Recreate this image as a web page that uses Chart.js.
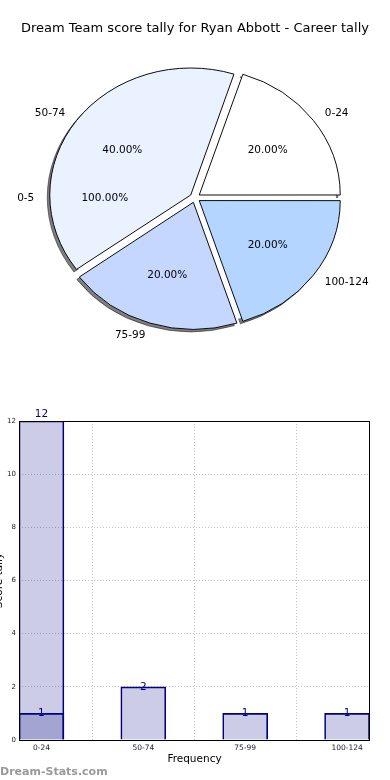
<!DOCTYPE html>
<html><head><meta charset="utf-8">
<script src="https://cdn.jsdelivr.net/npm/chart.js@4"></script>
<style>
html,body{margin:0;padding:0;background:#fff;width:390px;height:780px;overflow:hidden}
#pieWrap{position:absolute;left:0;top:0;width:390px;height:359px}
#barWrap{position:absolute;left:0;top:359px;width:390px;height:421px}
</style></head><body>
<div id="pieWrap"><canvas id="pie"></canvas></div>
<div id="barWrap"><canvas id="bar"></canvas></div>
<script>
// ---- data ----
const titleText = 'Dream Team score tally for Ryan Abbott - Career tally';
const categories = ['0-24', '50-74', '75-99', '100-124'];
const tallyCounts = [1, 2, 1, 1];
const pieColors = ['#ffffff', '#eaf1ff', '#c5d7ff', '#b3d5ff'];
const extraCategory = '0-5';
const extraPercentLabel = '100.00%';
const overallBar = [12];
const yTicks = [0, 2, 4, 6, 8, 10, 12];
const xTitle = 'Frequency';
const yTitle = 'Score tally';
const watermark = 'Dream-Stats.com';

const FONT = "'DejaVu Sans', 'Liberation Sans', sans-serif";
const total = tallyCounts.reduce((a, b) => a + b, 0);
const pctLabels = tallyCounts.map(v => (v / total * 100).toFixed(2) + '%');
// matplotlib draws counter-clockwise from 3 o'clock; Chart.js clockwise -> reverse
const revLabels = categories.slice().reverse();
const revData = tallyCounts.slice().reverse();
const revColors = pieColors.slice().reverse();
const revPct = pctLabels.slice().reverse();
const SX = 1.11;      // horizontal stretch of the (elliptical) pie
const EXPLODE = 19;   // Chart.js offset (translated by offset/4)

function stretch(ctx, cx, cy) {
  ctx.translate(cx, cy); ctx.scale(SX, 1); ctx.translate(-cx, -cy);
}

const pieShape = {
  id: 'pieShape',
  afterDatasetsUpdate(chart) {
    // cancel Chart.js' radius growth on offset wedges so all share one radius
    chart.getDatasetMeta(0).data.forEach(a => {
      const fix = 1 - Math.sin(Math.min(Math.PI, a.circumference || 0));
      a.outerRadius -= (EXPLODE / 4) * fix;
    });
  },
  beforeDatasetsDraw(chart) {
    const ctx = chart.ctx;
    const meta = chart.getDatasetMeta(0);
    const arcs = meta.data;
    const cx = arcs[0].x, cy = arcs[0].y;
    const R = meta.controller.outerRadius;
    // shadow beneath all wedges
    ctx.save();
    ctx.translate(-2.5, 2.5);
    stretch(ctx, cx, cy);
    ctx.filter = 'brightness(0)';
    ctx.globalAlpha = 0.5;
    arcs.forEach(a => a.draw(ctx));
    ctx.restore();
    // the empty full "0-5" wedge (white) hides the shadow inside the pie
    ctx.save();
    stretch(ctx, cx, cy);
    ctx.beginPath();
    ctx.arc(cx, cy, R, 0, Math.PI * 2);
    ctx.fillStyle = '#fff';
    ctx.fill();
    ctx.restore();
    ctx.save();
    stretch(ctx, cx, cy);
  },
  afterDatasetsDraw(chart) {
    const ctx = chart.ctx;
    ctx.restore();
    const meta = chart.getDatasetMeta(0);
    const arcs = meta.data;
    const cx = arcs[0].x, cy = arcs[0].y;
    const R = meta.controller.outerRadius;
    ctx.save();
    ctx.fillStyle = '#000';
    ctx.font = '10.5px ' + FONT;
    ctx.textBaseline = 'middle';
    const place = (mid, t, f) => {
      const ex = Math.cos(mid) * t, ey = Math.sin(mid) * t;
      return [cx + (ex + Math.cos(mid) * f * R) * SX, cy + ey + Math.sin(mid) * f * R];
    };
    arcs.forEach((a, i) => {
      const mid = (a.startAngle + a.endAngle) / 2;
      const t = EXPLODE / 4;
      let [lx, ly] = place(mid, t, 1.1);
      ctx.textAlign = Math.cos(mid) >= 0 ? 'left' : 'right';
      ctx.fillText(revLabels[i], lx, ly);
      let [px, py] = place(mid, t, 0.6);
      ctx.textAlign = 'center';
      ctx.fillText(revPct[i], px, py);
    });
    // labels of the empty "0-5" wedge (full circle, mid angle at 9 o'clock)
    let [lx, ly] = place(Math.PI, 0, 1.14);
    ctx.textAlign = 'right';
    ctx.fillText(extraCategory, lx, ly);
    let [px, py] = place(Math.PI, 0, 0.64);
    ctx.textAlign = 'center';
    ctx.fillText(extraPercentLabel, px, py);
    ctx.restore();
  }
};

new Chart(document.getElementById('pie'), {
  type: 'pie',
  data: {
    labels: revLabels,
    datasets: [{
      data: revData,
      backgroundColor: revColors,
      borderColor: '#000',
      borderWidth: 0.9,
      offset: EXPLODE,
      clip: false
    }]
  },
  options: {
    responsive: true, maintainAspectRatio: false, animation: false, events: [],
    rotation: 90,
    radius: 127,
    layout: { padding: 0 },
    plugins: {
      legend: { display: false },
      tooltip: { enabled: false },
      title: {
        display: true, text: titleText, color: '#000',
        font: { size: 13, family: FONT, weight: 'normal' },
        padding: { top: 21, bottom: 0 }
      }
    }
  },
  plugins: [pieShape]
});

// ---- bar chart ----
const barFill = 'rgba(0,0,128,0.2)';
const barEdge = '#000080';
const barExtras = {
  id: 'barExtras',
  afterDraw(chart) {
    const ctx = chart.ctx, ca = chart.chartArea;
    ctx.save();
    // frame
    ctx.strokeStyle = '#000'; ctx.lineWidth = 1;
    ctx.strokeRect(ca.left + 0.5, ca.top + 0.5, ca.right - ca.left - 1, ca.bottom - ca.top);
    // value labels
    ctx.fillStyle = '#000080';
    ctx.font = '10.5px ' + FONT;
    ctx.textAlign = 'center';
    chart.data.datasets.forEach((ds, di) => {
      chart.getDatasetMeta(di).data.forEach((bar, i) => {
        const v = ds.data[i].y;
        if (di === 0) { ctx.textBaseline = 'bottom'; ctx.fillText(String(v), bar.x, bar.y - 1); }
        else { ctx.textBaseline = 'middle'; ctx.fillText(String(v), bar.x, bar.y); }
      });
    });
    // y title (mostly cut off at the left edge)
    ctx.save();
    ctx.translate(1.5, (ca.top + ca.bottom) / 2);
    ctx.rotate(-Math.PI / 2);
    ctx.fillStyle = '#000';
    ctx.textBaseline = 'alphabetic';
    ctx.fillText(yTitle, 0, 0);
    ctx.restore();
    // watermark
    ctx.fillStyle = '#999';
    ctx.font = 'bold 11px ' + FONT;
    ctx.textAlign = 'left';
    ctx.textBaseline = 'bottom';
    ctx.fillText(watermark, 0, chart.height - 2);
    ctx.restore();
  }
};

const gridStyle = { color: '#c4c4c4', lineWidth: 1, drawTicks: false };
new Chart(document.getElementById('bar'), {
  type: 'bar',
  data: {
    datasets: [
      { label: extraCategory, data: overallBar.map((v, i) => ({ x: i, y: v })),
        backgroundColor: barFill, borderColor: barEdge, borderWidth: 1, barThickness: 45, grouped: false },
      { label: 'tally', data: tallyCounts.map((v, i) => ({ x: i, y: v })),
        backgroundColor: barFill, borderColor: barEdge, borderWidth: 1, barThickness: 45, grouped: false }
    ]
  },
  options: {
    responsive: true, maintainAspectRatio: false, animation: false, events: [],
    layout: { padding: { top: 62, right: 20, left: 0, bottom: 0 } },
    plugins: { legend: { display: false }, tooltip: { enabled: false } },
    scales: {
      x: {
        type: 'linear', min: -0.22, max: 3.225, offset: false, z: 1,
        afterBuildTicks: s => { s.ticks = categories.map((c, i) => ({ value: i })); },
        afterFit: s => { s.height = 40; },
        ticks: { callback: v => categories[v], font: { size: 7.5, family: FONT }, color: '#222', padding: 4, autoSkip: false, maxRotation: 0 },
        grid: gridStyle,
        border: { display: false, dash: [1, 2] },
        title: { display: true, text: xTitle, color: '#000', font: { size: 10.5, family: FONT }, padding: { top: 0, bottom: 14 } }
      },
      y: {
        min: 0, max: 12, z: 1,
        afterBuildTicks: s => { s.ticks = yTicks.map(v => ({ value: v })); },
        afterFit: s => { s.width = 19; },
        ticks: { font: { size: 7, family: FONT }, color: '#222', padding: 3 },
        grid: gridStyle,
        border: { display: false, dash: [1, 2] }
      }
    }
  },
  plugins: [barExtras]
});
</script>
</body></html>
